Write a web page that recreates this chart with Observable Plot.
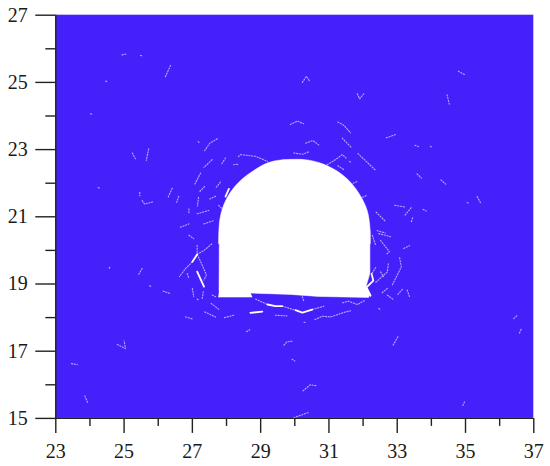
<!DOCTYPE html>
<html>
<head>
<meta charset="utf-8">
<script src="https://cdn.jsdelivr.net/npm/d3@7"></script>
<script src="https://cdn.jsdelivr.net/npm/@observablehq/plot@0.6"></script>
<style>html,body{margin:0;padding:0;background:#fff}svg{display:block}</style>
</head>
<body>
<div id="chart"></div>
<script>
const majorX = [23,25,27,29,31,33,35,37];
const minorX = [24,26,28,30,32,34,36];
const majorY = [15,17,19,21,23,25,27];
const minorY = [16,18,20,22,24,26];

const tunnelBody = [[27.76,18.61],[28.75,18.61],[28.7,18.73],[29.87,18.69],[30.69,18.63],[32.16,18.6],[32.2,18.7],
  [32.08,18.9],[32.2,19.32],[32.2,20.6],[27.79,20.6],[27.78,18.8]];
const tunnelArch = [[32.21,20.2],[32.2,20.69],[32.12,21.19],[31.92,21.63],[31.63,22.03],[31.24,22.36],[30.75,22.6],
  [30.31,22.7],[29.96,22.71],[29.58,22.69],[29.19,22.6],[28.8,22.38],[28.41,22.08],[28.12,21.74],[27.92,21.36],[27.8,20.89],[27.77,20.2]];

const thickCracks = [
  [[28.07,21.83],[27.97,21.6]],
  [[27.14,19.37],[27.34,18.92]],
  [[27.14,19.88],[27.0,19.66]],
  [[29.2,18.39],[29.43,18.34],[29.63,18.34]],
  [[32.25,19.3],[32.3,19.1],[32.1,18.9],[32.22,18.65]],
  [[28.7,18.14],[29.05,18.18]],
  [[30.02,18.22],[30.22,18.15],[30.51,18.24]]
];

const thinCracks = [
  [[24.94,25.82],[25.09,25.85]],[[25.48,25.8],[25.52,25.79]],[[26.21,25.17],[26.36,25.5]],[[24.46,25.04],[24.5,25.02]],
  [[24.02,24.07],[24.06,24.05]],[[25.24,22.9],[25.33,22.73]],[[25.72,23.02],[25.65,22.68]],[[27.17,23.24],[27.2,23.21]],
  [[27.73,23.32],[27.51,23.19],[27.36,22.97]],[[27.58,22.7],[27.34,22.47]],[[27.97,22.75],[27.84,22.54]],[[27.24,22.3],[27.06,21.95]],
  [[28.35,22.79],[28.41,22.85],[28.85,22.8],[29.2,22.65]],[[28.21,22.55],[28.36,22.57]],[[27.82,22.03],[27.7,21.88]],
  [[27.36,21.9],[27.22,21.76]],[[27.68,21.61],[27.51,21.53]],[[24.24,21.87],[24.28,21.85]],[[25.46,21.73],[25.46,21.63]],
  [[25.53,21.48],[25.6,21.38],[25.87,21.45]],[[26.41,21.85],[26.29,21.58]],[[26.6,21.61],[26.54,21.43]],[[27.18,21.58],[27.15,21.32]],
  [[26.9,21.24],[26.9,21.09]],[[27.14,21.09],[27.48,21.19]],[[27.77,21.34],[27.9,21.21]],[[26.65,20.69],[26.9,20.79]],
  [[27.34,20.79],[27.63,20.89]],[[26.9,20.45],[27.04,20.35]],[[27.14,20.15],[27.14,19.88]],[[27.0,19.66],[26.8,19.46],[26.62,19.22]],
  [[27.14,19.88],[27.34,20.0],[27.58,20.2]],[[27.14,19.88],[27.29,19.56],[27.41,19.27],[27.34,19.12]],[[26.85,19.31],[26.9,19.16]],
  [[27.0,18.87],[27.04,18.62]],[[27.32,18.77],[27.29,18.57]],[[27.14,18.55],[27.17,18.53]],[[24.58,19.5],[24.55,19.43]],
  [[25.53,19.46],[25.43,19.29]],[[25.75,18.95],[25.78,18.93]],[[26.14,18.79],[26.34,18.72]],[[27.58,18.67],[27.68,18.62]],
  [[27.55,18.42],[27.77,18.25]],[[27.36,18.17],[27.68,18.02]],[[26.8,18.02],[27.0,17.96]],[[27.94,18.0],[28.21,18.07]],
  [[28.85,18.55],[29.2,18.39]],[[29.63,18.34],[30.02,18.22]],[[30.51,18.24],[30.85,18.34]],[[28.59,17.58],[28.68,17.64]],
  [[24.8,17.2],[25.04,17.08],[25.0,17.31]],[[23.46,16.63],[23.63,16.6]],[[23.85,15.67],[23.94,15.45]],[[29.43,18.07],[29.77,18.05]],
  [[30.27,17.86],[30.32,17.85]],[[30.59,17.94],[30.8,18.04],[31.05,18.02],[31.49,18.17],[31.63,18.2]],
  [[31.4,18.44],[31.57,18.49],[31.83,18.39],[32.07,18.52]],[[30.22,18.62],[30.27,18.47]],[[32.46,18.27],[32.49,18.25]],
  [[29.68,17.18],[29.77,17.28],[29.94,17.3]],[[29.92,16.76],[30.0,16.71]],[[30.24,15.82],[30.45,16.0],[30.66,15.97]],
  [[29.97,15.02],[30.41,15.18]],[[33.02,17.43],[32.88,17.18]],[[36.5,18.05],[36.38,17.94]],[[36.63,17.65],[36.56,17.5]],
  [[34.97,15.49],[34.9,15.34]],[[32.37,19.49],[32.25,19.3]],[[32.51,20.3],[32.77,19.96],[32.7,19.9]],[[33.19,20.06],[33.36,20.14]],
  [[33.07,19.78],[33.12,19.51],[32.85,18.96]],[[32.74,19.6],[32.71,19.36],[32.35,19.03]],[[32.51,19.36],[32.6,19.22]],
  [[33.15,18.84],[33.0,18.67]],[[33.29,18.82],[33.36,18.62]],[[32.56,18.74],[32.71,18.87]],[[32.71,18.67],[32.87,18.55]],
  [[32.27,20.45],[32.37,20.15]],[[32.46,20.5],[32.8,20.41]],[[30.22,25.0],[30.34,25.18],[30.44,25.03]],[[31.83,24.66],[31.9,24.51],[32.02,24.66]],
  [[34.79,25.33],[34.98,25.23]],[[34.46,24.63],[34.53,24.33]],[[29.87,23.75],[30.07,23.85],[30.26,23.77]],
  [[31.26,23.82],[31.44,23.72],[31.63,23.5]],[[31.39,23.34],[31.65,23.07]],[[32.68,23.35],[32.96,23.45]],
  [[30.32,23.19],[30.53,23.27],[30.7,23.14]],[[29.97,22.9],[30.22,22.86],[30.4,22.93]],[[30.95,22.55],[31.19,22.7],[31.39,22.85],[31.5,22.75]],
  [[31.6,22.65],[31.63,22.63]],[[31.85,22.88],[32.35,22.4]],[[31.26,22.52],[31.44,22.4]],[[31.71,22.0],[31.83,22.05]],[[31.99,21.58],[32.09,21.63]],
  [[33.52,23.13],[33.62,23.09]],[[33.97,23.1],[34.0,23.08]],[[33.58,22.28],[33.71,22.15]],[[34.28,22.1],[34.42,21.97]],[[35.34,21.6],[35.44,21.42]],
  [[35.05,21.42],[35.08,21.41]],[[32.93,21.34],[33.24,21.29]],[[33.41,21.27],[33.22,21.04]],[[33.76,21.22],[33.85,21.17]],
  [[33.45,20.97],[33.41,20.84]],[[32.38,21.14],[32.65,20.87]],[[32.41,20.59],[32.65,20.52]]
];

const flatten = list => list.flatMap((pts, id) => pts.map(([x, y]) => ({x, y, id})));
const asPoints = pts => pts.map(([x, y]) => ({x, y}));
const axisFont = {fontFamily: "Liberation Serif", fontSize: 20};
const tickStyle = {stroke: "#222", strokeWidth: 1.4};

const plot = Plot.plot({
  width: 550,
  height: 466,
  marginLeft: 55.3,
  marginRight: 16.7,
  marginTop: 14.7,
  marginBottom: 48.1,
  style: {background: "#fff", fontFamily: "Liberation Serif"},
  x: {domain: [23, 37]},
  y: {domain: [15, 27]},
  marks: [
    Plot.rect([{x1: 23, x2: 37, y1: 15, y2: 27}], {x1: "x1", x2: "x2", y1: "y1", y2: "y2", fill: "#4520FA"}),
    Plot.line(flatten(thinCracks), {x: "x", y: "y", z: "id", stroke: "#fff", strokeOpacity: 0.62, strokeWidth: 1.1, strokeDasharray: "1.2 1.6"}),
    Plot.line(flatten(thickCracks), {x: "x", y: "y", z: "id", stroke: "#fff", strokeWidth: 1.8, strokeLinecap: "round"}),
    Plot.line(asPoints(tunnelBody), {x: "x", y: "y", fill: "#fff", stroke: "#fff", strokeWidth: 0.5}),
    Plot.line(asPoints(tunnelArch), {x: "x", y: "y", curve: "catmull-rom", fill: "#fff", stroke: "#fff", strokeWidth: 0.5}),
    Plot.ruleX([23], tickStyle),
    Plot.ruleY([15], tickStyle),
    Plot.axisX(majorX, {tickSize: 15, tickPadding: 10, label: null, ...axisFont, ...tickStyle, fill: "#1a1a1a"}),
    Plot.axisX(minorX, {tickSize: 8, tickFormat: () => "", label: null, ...tickStyle}),
    Plot.axisY(majorY, {tickSize: 20, tickPadding: 8, label: null, ...axisFont, ...tickStyle, fill: "#1a1a1a"}),
    Plot.axisY(minorY, {tickSize: 10, tickFormat: () => "", label: null, ...tickStyle})
  ]
});
document.getElementById("chart").appendChild(plot);
</script>
</body>
</html>
